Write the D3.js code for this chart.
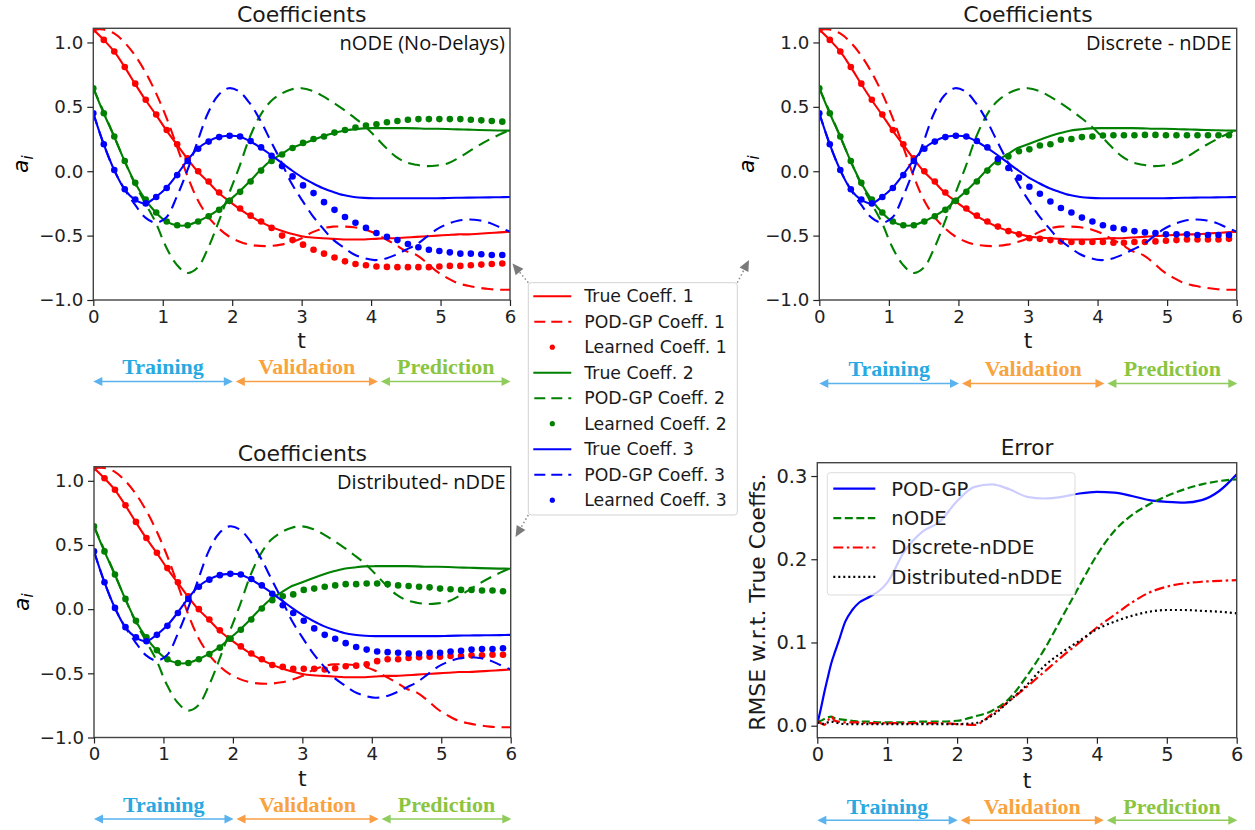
<!DOCTYPE html>
<html>
<head>
<meta charset="utf-8">
<script src="https://cdn.jsdelivr.net/npm/d3@7"></script>
<style>
  body { margin: 0; background: #fff; }
  svg { display: block; font-family: "DejaVu Sans", sans-serif; }
</style>
</head>
<body>
<svg id="chart" width="1255" height="830"></svg>
<script>
// ---- data ----
// time grid of the reference curves (true / POD-GP)
const tGrid = [0, 0.15, 0.3, 0.45, 0.6, 0.75, 0.9, 1.05, 1.2, 1.35, 1.5, 1.65, 1.8, 1.95, 2.1, 2.25, 2.4, 2.55, 2.7, 2.85,
  3.0, 3.15, 3.3, 3.45, 3.6, 3.75, 3.9, 4.05, 4.2, 4.35, 4.5, 4.65, 4.8, 4.95, 5.1, 5.25, 5.4, 5.55, 5.7, 5.85, 6.0];

const trueCoeff1 = [1.10, 1.02, 0.93, 0.81, 0.68, 0.555, 0.44, 0.32, 0.21, 0.10, 0.0, -0.08, -0.165, -0.23, -0.29, -0.345, -0.39, -0.43, -0.46, -0.485,
  -0.505, -0.515, -0.52, -0.525, -0.53, -0.53, -0.53, -0.525, -0.52, -0.52, -0.515, -0.51, -0.505, -0.50, -0.495, -0.49, -0.49, -0.485, -0.48, -0.475, -0.47];
const trueCoeff2 = [0.645, 0.45, 0.27, 0.08, -0.09, -0.22, -0.32, -0.39, -0.42, -0.42, -0.39, -0.35, -0.30, -0.23, -0.16, -0.08, 0.005, 0.08, 0.13, 0.18,
  0.21, 0.24, 0.27, 0.295, 0.315, 0.325, 0.333, 0.335, 0.335, 0.335, 0.335, 0.333, 0.33, 0.33, 0.328, 0.325, 0.323, 0.32, 0.318, 0.316, 0.315];
const trueCoeff3 = [0.45, 0.21, 0.01, -0.14, -0.22, -0.25, -0.20, -0.13, -0.03, 0.08, 0.175, 0.23, 0.265, 0.275, 0.27, 0.235, 0.185, 0.13, 0.07, 0.01,
  -0.045, -0.09, -0.13, -0.16, -0.185, -0.2, -0.207, -0.21, -0.21, -0.21, -0.21, -0.21, -0.21, -0.21, -0.208, -0.206, -0.205, -0.204, -0.203, -0.202, -0.20];

const podCoeff1 = [1.10, 1.10, 1.07, 1.0, 0.90, 0.77, 0.61, 0.42, 0.2, -0.03, -0.22, -0.35, -0.44, -0.505, -0.545, -0.57, -0.58, -0.58, -0.57, -0.55,
  -0.52, -0.475, -0.445, -0.43, -0.43, -0.435, -0.45, -0.48, -0.525, -0.57, -0.62, -0.65, -0.71, -0.78, -0.83, -0.87, -0.89, -0.905, -0.915, -0.92, -0.92];
const podCoeff2 = [0.645, 0.46, 0.27, 0.08, -0.10, -0.25, -0.40, -0.59, -0.725, -0.79, -0.75, -0.60, -0.40, -0.18, 0.03, 0.26, 0.43, 0.54, 0.60, 0.635,
  0.645, 0.625, 0.585, 0.535, 0.48, 0.42, 0.355, 0.275, 0.19, 0.115, 0.07, 0.05, 0.04, 0.045, 0.06, 0.10, 0.15, 0.20, 0.245, 0.285, 0.32];
const podCoeff3 = [0.45, 0.21, 0.01, -0.14, -0.26, -0.36, -0.40, -0.36, -0.20, 0.0, 0.23, 0.45, 0.59, 0.645, 0.62, 0.53, 0.40, 0.24, 0.08, -0.09,
  -0.22, -0.34, -0.44, -0.53, -0.59, -0.645, -0.675, -0.69, -0.68, -0.65, -0.61, -0.57, -0.51, -0.45, -0.41, -0.385, -0.375, -0.38, -0.40, -0.435, -0.47];

// sample times of the learned coefficients (dots)
const dotT = [0, 0.151, 0.302, 0.453, 0.604, 0.755, 0.906, 1.057, 1.208, 1.359, 1.51, 1.661, 1.812, 1.963, 2.114, 2.265, 2.416, 2.567, 2.718, 2.869,
  3.02, 3.171, 3.322, 3.473, 3.624, 3.775, 3.926, 4.077, 4.228, 4.379, 4.53, 4.681, 4.832, 4.983, 5.134, 5.285, 5.436, 5.587, 5.738, 5.889];

const nodeLearned1 = [1.10, 1.02, 0.93, 0.81, 0.68, 0.555, 0.44, 0.32, 0.21, 0.10, 0.0, -0.08, -0.165, -0.23, -0.29, -0.345, -0.39, -0.44, -0.50, -0.535,
  -0.57, -0.61, -0.64, -0.67, -0.70, -0.72, -0.73, -0.74, -0.743, -0.745, -0.745, -0.745, -0.745, -0.74, -0.735, -0.735, -0.73, -0.725, -0.72, -0.717];
const nodeLearned2 = [0.645, 0.45, 0.27, 0.08, -0.09, -0.22, -0.32, -0.39, -0.42, -0.42, -0.39, -0.35, -0.30, -0.23, -0.16, -0.08, 0.005, 0.08, 0.13, 0.18,
  0.22, 0.25, 0.27, 0.30, 0.32, 0.34, 0.355, 0.365, 0.38, 0.39, 0.40, 0.405, 0.405, 0.405, 0.405, 0.405, 0.40, 0.395, 0.39, 0.385];
const nodeLearned3 = [0.45, 0.21, 0.01, -0.14, -0.22, -0.25, -0.20, -0.13, -0.03, 0.08, 0.175, 0.23, 0.265, 0.275, 0.27, 0.235, 0.185, 0.12, 0.04, -0.04,
  -0.11, -0.17, -0.24, -0.30, -0.355, -0.40, -0.44, -0.48, -0.51, -0.535, -0.565, -0.59, -0.61, -0.62, -0.63, -0.64, -0.64, -0.645, -0.65, -0.65];

const discLearned1 = [1.10, 1.02, 0.93, 0.81, 0.68, 0.555, 0.44, 0.32, 0.21, 0.10, 0.0, -0.08, -0.165, -0.23, -0.29, -0.345, -0.39, -0.43, -0.465, -0.49,
  -0.52, -0.525, -0.535, -0.545, -0.55, -0.55, -0.55, -0.55, -0.555, -0.555, -0.55, -0.55, -0.545, -0.54, -0.535, -0.53, -0.53, -0.53, -0.53, -0.525];
const discLearned2 = [0.645, 0.45, 0.27, 0.08, -0.09, -0.22, -0.32, -0.39, -0.42, -0.42, -0.39, -0.35, -0.30, -0.23, -0.16, -0.08, 0.005, 0.07, 0.115, 0.155,
  0.17, 0.20, 0.21, 0.245, 0.25, 0.265, 0.27, 0.278, 0.28, 0.28, 0.28, 0.282, 0.282, 0.28, 0.28, 0.28, 0.28, 0.28, 0.28, 0.28];
const discLearned3 = [0.45, 0.21, 0.01, -0.14, -0.22, -0.25, -0.20, -0.13, -0.03, 0.08, 0.175, 0.23, 0.265, 0.275, 0.27, 0.235, 0.185, 0.095, 0.025, -0.05,
  -0.12, -0.175, -0.235, -0.285, -0.32, -0.36, -0.39, -0.42, -0.44, -0.45, -0.465, -0.475, -0.48, -0.49, -0.49, -0.49, -0.495, -0.495, -0.495, -0.495];

const distLearned1 = [1.10, 1.02, 0.93, 0.81, 0.68, 0.555, 0.44, 0.32, 0.21, 0.10, 0.0, -0.08, -0.165, -0.23, -0.29, -0.345, -0.39, -0.435, -0.45, -0.465,
  -0.465, -0.465, -0.47, -0.46, -0.445, -0.44, -0.43, -0.405, -0.39, -0.39, -0.38, -0.375, -0.37, -0.37, -0.365, -0.365, -0.36, -0.36, -0.355, -0.355];
const distLearned2 = [0.645, 0.45, 0.27, 0.08, -0.09, -0.22, -0.32, -0.39, -0.42, -0.42, -0.39, -0.35, -0.30, -0.23, -0.16, -0.08, 0.005, 0.07, 0.10, 0.115,
  0.15, 0.16, 0.175, 0.185, 0.195, 0.195, 0.20, 0.20, 0.195, 0.185, 0.18, 0.175, 0.17, 0.16, 0.155, 0.15, 0.15, 0.145, 0.145, 0.14];
const distLearned3 = [0.45, 0.21, 0.01, -0.14, -0.22, -0.25, -0.20, -0.13, -0.03, 0.08, 0.175, 0.23, 0.265, 0.275, 0.27, 0.235, 0.185, 0.12, 0.03, -0.03,
  -0.09, -0.15, -0.20, -0.23, -0.265, -0.295, -0.315, -0.33, -0.335, -0.34, -0.345, -0.345, -0.34, -0.34, -0.33, -0.325, -0.315, -0.31, -0.31, -0.305];

// error panel
const errT = [0, 0.05, 0.1, 0.15, 0.2, 0.25, 0.3, 0.4, 0.5, 0.6, 0.75, 0.9, 1.0, 1.25, 1.5, 1.75, 2.0, 2.25, 2.5, 2.75,
  3.0, 3.25, 3.5, 3.75, 4.0, 4.25, 4.5, 4.75, 5.0, 5.25, 5.5, 5.75, 6.0];
const errPOD = [0.002, 0.02, 0.04, 0.058, 0.075, 0.088, 0.10, 0.125, 0.139, 0.148, 0.155, 0.163, 0.172, 0.21, 0.233, 0.245, 0.27, 0.287, 0.29, 0.284,
  0.275, 0.273, 0.275, 0.279, 0.281, 0.280, 0.276, 0.271, 0.269, 0.268, 0.271, 0.282, 0.302];
const errNODE = [0.005, 0.006, 0.008, 0.01, 0.011, 0.009, 0.008, 0.007, 0.006, 0.005, 0.005, 0.004, 0.004, 0.004, 0.005, 0.005, 0.006, 0.011, 0.018, 0.033,
  0.06, 0.092, 0.13, 0.168, 0.205, 0.234, 0.253, 0.266, 0.276, 0.284, 0.29, 0.294, 0.296];
const errDisc = [0.005, 0.003, 0.001, 0.006, 0.011, 0.006, 0.005, 0.004, 0.004, 0.004, 0.003, 0.003, 0.003, 0.003, 0.003, 0.003, 0.002, 0.001, 0.014, 0.03,
  0.047, 0.065, 0.083, 0.10, 0.118, 0.133, 0.148, 0.16, 0.167, 0.171, 0.173, 0.174, 0.175];
const errDist = [0.004, 0.003, 0.002, 0.004, 0.005, 0.004, 0.003, 0.002, 0.002, 0.002, 0.002, 0.002, 0.002, 0.002, 0.002, 0.002, 0.002, 0.003, 0.012, 0.03,
  0.049, 0.072, 0.088, 0.102, 0.116, 0.125, 0.132, 0.137, 0.139, 0.139, 0.138, 0.137, 0.135];

const coeffTicks = [-1.0, -0.5, 0.0, 0.5, 1.0];
const errTicks = [0.0, 0.1, 0.2, 0.3];
const timeTicks = [0, 1, 2, 3, 4, 5, 6];
const coeffLegend = ["True Coeff. ", "POD-GP Coeff. ", "Learned Coeff. "];
const errLegend = ["POD-GP", "nODE", "Discrete-nDDE", "Distributed-nDDE"];
const phaseNames = ["Training", "Validation", "Prediction"];
const phaseBounds = [0, 2.03, 4.12, 6.03];

// ---- styling ----
const COLORS = ["#ff0000", "#008000", "#0000ff"];
const PHASE_TEXT = ["#29a9e1", "#f8a33d", "#8bc53f"];
const PHASE_LINE = ["#5ab2ee", "#f89e45", "#8fcc5c"];
const SANS = "DejaVu Sans, sans-serif";
const DASH = "12,7";

const svg = d3.select("#chart");
const trueCoeffs = [trueCoeff1, trueCoeff2, trueCoeff3];
const podCoeffs = [podCoeff1, podCoeff2, podCoeff3];

/**
 * Draws the t axis phase arrows (Training / Validation / Prediction)
 */
function drawPhases(x, textY, arrowY) {
  const g = svg.append("g");
  phaseNames.forEach((name, i) => {
    const x0 = x(phaseBounds[i]) + (i === 0 ? 0 : 1.5);
    const x1 = x(phaseBounds[i + 1]) - 1.5;
    const col = PHASE_LINE[i];
    g.append("line").attr("x1", x0 + 4).attr("x2", x1 - 4).attr("y1", arrowY).attr("y2", arrowY)
      .attr("stroke", col).attr("stroke-width", 1.6);
    [[x0, 1], [x1, -1]].forEach(([px, dir]) => {
      g.append("path")
        .attr("d", `M${px},${arrowY} L${px + dir * 9},${arrowY - 4.5} L${px + dir * 9},${arrowY + 4.5} Z`)
        .attr("fill", col);
    });
    g.append("text").text(name)
      .attr("x", (x0 + x1) / 2).attr("y", textY)
      .attr("text-anchor", "middle")
      .attr("font-family", "Liberation Serif, serif").attr("font-weight", "bold")
      .attr("font-size", 22).attr("fill", PHASE_TEXT[i]);
  });
}

/**
 * Rotated italic a_i label
 */
function drawAiLabel(cx, cy, clipId) {
  const holder = svg.append("g");
  if (clipId) holder.attr("clip-path", `url(#${clipId})`);
  const t = holder.append("text")
    .attr("transform", `translate(${cx},${cy}) rotate(-90)`)
    .attr("text-anchor", "middle").attr("dy", "0.35em")
    .attr("font-family", SANS).attr("font-size", 22).attr("font-style", "italic");
  t.append("tspan").text("a");
  t.append("tspan").text("i").attr("font-size", 15).attr("dy", "0.3em");
}

/**
 * Renders one coefficients panel
 */
function drawCoeffPanel(cfg) {
  const x = d3.scaleLinear().domain([0, 6]).range([cfg.left, cfg.right]);
  const y = d3.scaleLinear().domain([-1.0, 1.11]).range([cfg.bottom, cfg.top]);
  const g = svg.append("g");

  g.append("clipPath").attr("id", "clip-" + cfg.id).append("rect")
    .attr("x", cfg.left).attr("y", cfg.top)
    .attr("width", cfg.right - cfg.left).attr("height", cfg.bottom - cfg.top);
  const plot = g.append("g").attr("clip-path", `url(#clip-${cfg.id})`);

  const line = d3.line()
    .x((d, i) => x(tGrid[i]))
    .y(d => y(d))
    .curve(d3.curveCatmullRom.alpha(0.5));

  for (let c = 0; c < 3; c++) {
    plot.append("path").datum(trueCoeffs[c])
      .attr("d", line).attr("fill", "none")
      .attr("stroke", COLORS[c]).attr("stroke-width", 2.1);
    plot.append("path").datum(podCoeffs[c])
      .attr("d", line).attr("fill", "none")
      .attr("stroke", COLORS[c]).attr("stroke-width", 2.1)
      .attr("stroke-dasharray", DASH);
    plot.append("g").selectAll("circle")
      .data(cfg.learned[c]).join("circle")
      .attr("cx", (d, i) => x(dotT[i]))
      .attr("cy", d => y(d))
      .attr("r", 3.3).attr("fill", COLORS[c]);
  }

  // frame
  g.append("rect")
    .attr("x", cfg.left).attr("y", cfg.top)
    .attr("width", cfg.right - cfg.left).attr("height", cfg.bottom - cfg.top)
    .attr("fill", "none").attr("stroke", "#444").attr("stroke-width", 1.4);

  const yAxis = g.append("g").attr("transform", `translate(${cfg.left},0)`)
    .call(d3.axisLeft(y).tickValues(coeffTicks).tickFormat(d3.format(".1f")).tickSize(6).tickPadding(4));
  const xAxis = g.append("g").attr("transform", `translate(0,${cfg.bottom})`)
    .call(d3.axisBottom(x).tickValues(timeTicks).tickFormat(d3.format("d")).tickSize(6).tickPadding(4));
  [yAxis, xAxis].forEach(a => {
    a.select(".domain").remove();
    a.attr("font-size", 18.2).attr("font-family", SANS).attr("color", "#222");
    a.selectAll("line").attr("stroke-width", 1.2);
  });

  g.append("text").text("Coefficients")
    .attr("x", (cfg.left + cfg.right) / 2).attr("y", cfg.top - 6)
    .attr("text-anchor", "middle").attr("font-size", 22).attr("fill", "#1a1a1a");

  g.append("text").text(cfg.note)
    .attr("x", cfg.right - 5).attr("y", cfg.top + 22)
    .attr("text-anchor", "end").attr("font-family", "Open Sans, sans-serif")
    .attr("font-size", 20).attr("fill", "#111");

  g.append("text").text("t")
    .attr("x", (cfg.left + cfg.right) / 2).attr("y", cfg.bottom + 48)
    .attr("text-anchor", "middle").attr("font-size", 22).attr("fill", "#1a1a1a");

  drawAiLabel(cfg.left - 73, (cfg.top + cfg.bottom) / 2, cfg.labelClip);
  drawPhases(x, cfg.bottom + cfg.phaseOffset, cfg.bottom + cfg.phaseOffset + 7.5);
}

// clip for the partly hidden y label of the top-right panel
svg.append("clipPath").attr("id", "clip-label-tr").append("rect")
  .attr("x", 741).attr("y", 0).attr("width", 100).attr("height", 400);

drawCoeffPanel({ id: "tl", left: 93.3, right: 510, top: 28.3, bottom: 300, note: "nODE (No-Delays)",
  learned: [nodeLearned1, nodeLearned2, nodeLearned3], phaseOffset: 74 });
drawCoeffPanel({ id: "tr", left: 819.3, right: 1236.7, top: 28.3, bottom: 300, note: "Discrete - nDDE",
  learned: [discLearned1, discLearned2, discLearned3], phaseOffset: 76, labelClip: "clip-label-tr" });
drawCoeffPanel({ id: "bl", left: 94, right: 510.7, top: 466.7, bottom: 737.5, note: "Distributed- nDDE",
  learned: [distLearned1, distLearned2, distLearned3], phaseOffset: 74 });

// ---- shared legend of the coefficient panels ----
(function drawCoeffLegend() {
  const lx = 528.3, ly = 282.7, lw = 209, lh = 232.3;
  const g = svg.append("g");
  g.append("rect").attr("x", lx).attr("y", ly).attr("width", lw).attr("height", lh)
    .attr("rx", 3).attr("fill", "#fff").attr("stroke", "#d3d3d3").attr("stroke-width", 1);
  const rows = [];
  for (let c = 0; c < 3; c++) coeffLegend.forEach((lab, k) => rows.push({ c: c, k: k, label: lab + (c + 1) }));
  rows.forEach((r, i) => {
    const yy = ly + 13.5 + i * 25.5;
    if (r.k < 2) {
      g.append("line").attr("x1", lx + 5).attr("x2", lx + 43).attr("y1", yy).attr("y2", yy)
        .attr("stroke", COLORS[r.c]).attr("stroke-width", 2)
        .attr("stroke-dasharray", r.k === 1 ? "11,6" : null)
        .attr("stroke-dashoffset", r.k === 1 ? -1 : null);
    } else {
      g.append("circle").attr("cx", lx + 24).attr("cy", yy).attr("r", 2.6).attr("fill", COLORS[r.c]);
    }
    g.append("text").text(r.label).attr("x", lx + 56).attr("y", yy).attr("dy", "0.35em")
      .attr("font-size", 17.3).attr("fill", "#1a1a1a");
  });

  // dotted pointers towards the three panels
  const pointers = [
    [[lx, ly], [512.5, 263.5]],
    [[lx + lw, ly], [749, 260]],
    [[lx, ly + lh], [515.5, 537]]
  ];
  pointers.forEach(([from, to]) => {
    const ang = Math.atan2(to[1] - from[1], to[0] - from[0]);
    const L = 11, W = 5;
    const bx = to[0] - L * Math.cos(ang), by = to[1] - L * Math.sin(ang);
    g.append("line").attr("x1", from[0]).attr("y1", from[1]).attr("x2", bx).attr("y2", by)
      .attr("stroke", "#8a8a8a").attr("stroke-width", 1.5).attr("stroke-dasharray", "1.5,2.5");
    const px = -Math.sin(ang) * W, py = Math.cos(ang) * W;
    g.append("path")
      .attr("d", `M${to[0]},${to[1]} L${bx + px},${by + py} L${bx - px},${by - py} Z`)
      .attr("fill", "#7a7a7a");
  });
})();

// ---- error panel ----
(function drawErrorPanel() {
  const left = 817.3, right = 1236.7, top = 462.7, bottom = 737.7;
  const x = d3.scaleLinear().domain([0, 6]).range([left, right]);
  const y = d3.scaleLinear().domain([-0.0144, 0.316]).range([bottom, top]);
  const g = svg.append("g");

  g.append("clipPath").attr("id", "clip-err").append("rect")
    .attr("x", left).attr("y", top).attr("width", right - left).attr("height", bottom - top);
  const plot = g.append("g").attr("clip-path", "url(#clip-err)");

  const series = [
    { values: errPOD, color: "#0000ff", dash: null },
    { values: errNODE, color: "#008000", dash: "8,3.5" },
    { values: errDisc, color: "#ff0000", dash: "10,3.5,2.5,3.5" },
    { values: errDist, color: "#000000", dash: "2,3" }
  ];
  const line = d3.line()
    .x((d, i) => x(errT[i]))
    .y(d => y(d))
    .curve(d3.curveMonotoneX);

  series.forEach(s => {
    plot.append("path").datum(s.values).attr("d", line)
      .attr("fill", "none").attr("stroke", s.color).attr("stroke-width", 2.2)
      .attr("stroke-dasharray", s.dash);
  });

  g.append("rect").attr("x", left).attr("y", top).attr("width", right - left).attr("height", bottom - top)
    .attr("fill", "none").attr("stroke", "#444").attr("stroke-width", 1.4);

  const yAxis = g.append("g").attr("transform", `translate(${left},0)`)
    .call(d3.axisLeft(y).tickValues(errTicks).tickFormat(d3.format(".1f")).tickSize(6).tickPadding(4));
  const xAxis = g.append("g").attr("transform", `translate(0,${bottom})`)
    .call(d3.axisBottom(x).tickValues(timeTicks).tickFormat(d3.format("d")).tickSize(6).tickPadding(4));
  [yAxis, xAxis].forEach(a => {
    a.select(".domain").remove();
    a.attr("font-size", 19.4).attr("font-family", SANS).attr("color", "#222");
    a.selectAll("line").attr("stroke-width", 1.2);
  });

  g.append("text").text("Error").attr("x", (left + right) / 2).attr("y", top - 8)
    .attr("text-anchor", "middle").attr("font-size", 21.6).attr("fill", "#1a1a1a");
  g.append("text").text("t").attr("x", (left + right) / 2).attr("y", bottom + 50)
    .attr("text-anchor", "middle").attr("font-size", 22).attr("fill", "#1a1a1a");
  g.append("text").text("RMSE w.r.t. True Coeffs.")
    .attr("transform", `translate(757,${(top + bottom) / 2 + 2}) rotate(-90)`)
    .attr("text-anchor", "middle").attr("dy", "0.35em")
    .attr("font-size", 21.9).attr("fill", "#1a1a1a");

  // legend (semi transparent like matplotlib)
  const lx = 827.3, ly = 472.7, lw = 247.7, lh = 122.3;
  g.append("rect").attr("x", lx).attr("y", ly).attr("width", lw).attr("height", lh).attr("rx", 3)
    .attr("fill", "#fff").attr("fill-opacity", 0.8).attr("stroke", "#d3d3d3").attr("stroke-opacity", 0.8);
  errLegend.forEach((lab, i) => {
    const yy = ly + 16 + i * 29.4;
    g.append("line").attr("x1", lx + 6).attr("x2", lx + 48).attr("y1", yy).attr("y2", yy)
      .attr("stroke", series[i].color).attr("stroke-width", 2.2).attr("stroke-dasharray", series[i].dash);
    g.append("text").text(lab).attr("x", lx + 64).attr("y", yy).attr("dy", "0.35em")
      .attr("font-size", 19.6).attr("fill", "#1a1a1a");
  });

  drawPhases(x, bottom + 76.5, bottom + 82.5);
})();
</script>
</body>
</html>
